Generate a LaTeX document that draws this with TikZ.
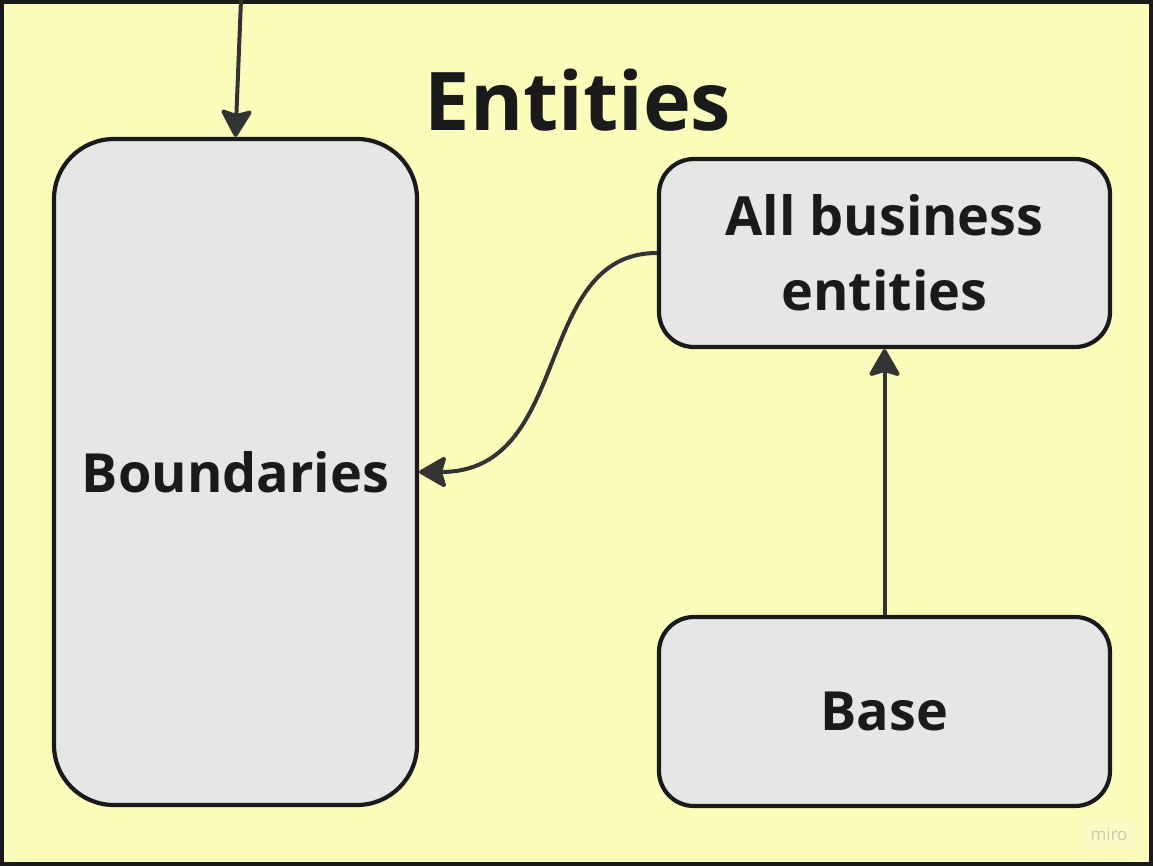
\documentclass[tikz,border=0pt]{standalone}
\usepackage{fontspec}
\setmainfont{Open Sans}
\usetikzlibrary{arrows.meta}
\definecolor{bgyellow}{HTML}{FCFCBB}
\definecolor{boxgray}{HTML}{E6E6E6}
\definecolor{edge}{HTML}{1A1A1A}
\definecolor{arrowc}{HTML}{333333}
\definecolor{wmbox}{HTML}{FBFBC6}
\definecolor{wmtext}{HTML}{C9C9B4}
\tikzset{
  x=1pt,y=1pt,
  boxnode/.style={draw=edge, fill=boxgray, line width=4.2pt, text=edge,
    font=\bfseries\fontsize{54}{75}\selectfont, align=center, inner sep=0pt},
  conn/.style={draw=arrowc, line width=4pt,
    -{Stealth[length=30pt,width=34pt,inset=5pt,round]}},
}
\begin{document}
\begin{tikzpicture}
\useasboundingbox (0,0) rectangle (1153,-866);
\fill[bgyellow] (0,0) rectangle (1153,-866);
\draw[edge, line width=4.5pt] (2,-2) rectangle (1151,-864);
\node[font=\bfseries\fontsize{81}{90}\selectfont, text=edge] (title) at (578,-100) {Entities};
\node[boxnode, minimum width=363pt, minimum height=666pt, rounded corners=60pt] (bnd) at (235.5,-472) {Boundaries};
\node[boxnode, minimum width=451pt, minimum height=188pt, rounded corners=35pt] (abe) at (884.5,-253) {All business\\entities};
\node[boxnode, minimum width=451pt, minimum height=189pt, rounded corners=35pt] (base) at (884.5,-711.5) {Base};
\coordinate (topin) at (241,0);
\draw[conn] (topin) -- (bnd.north);
\draw[conn] (abe.west) .. controls +(-125,0) and +(155,0) .. (bnd.east);
\draw[conn] (base.north) -- (abe.south);
\node[fill=wmbox, minimum width=54pt, minimum height=30pt, inner sep=0pt,
  font=\fontsize{17}{20}\selectfont, text=wmtext] (wm) at (1109,-834) {miro};
\end{tikzpicture}
\end{document}
